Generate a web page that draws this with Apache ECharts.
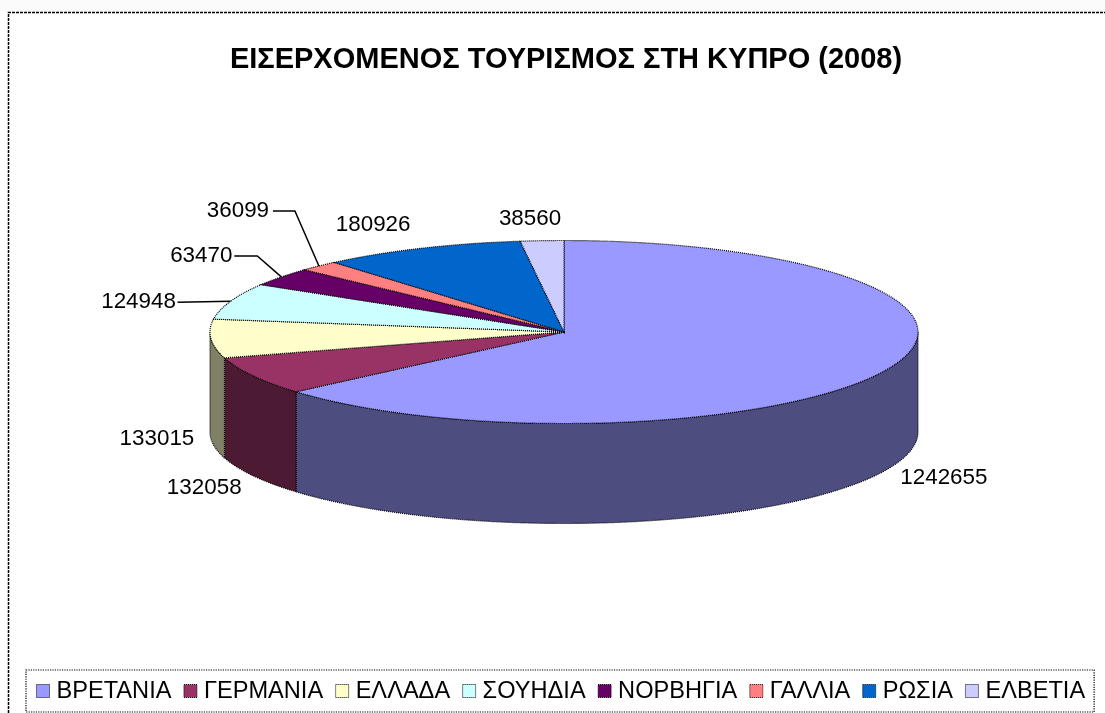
<!DOCTYPE html>
<html>
<head>
<meta charset="utf-8">
<style>html,body{margin:0;padding:0;background:#fff}#c{width:1105px;height:713px}</style>
<script src="https://cdn.jsdelivr.net/npm/echarts@6/dist/echarts.min.js"></script>
</head>
<body>
<div id="c"></div>
<script>
const titleText = 'ΕΙΣΕΡΧΟΜΕΝΟΣ ΤΟΥΡΙΣΜΟΣ ΣΤΗ ΚΥΠΡΟ (2008)';
const categories = ['ΒΡΕΤΑΝΙΑ','ΓΕΡΜΑΝΙΑ','ΕΛΛΑΔΑ','ΣΟΥΗΔΙΑ','ΝΟΡΒΗΓΙΑ','ΓΑΛΛΙΑ','ΡΩΣΙΑ','ΕΛΒΕΤΙΑ'];
const values = [1242655,132058,133015,124948,63470,36099,180926,38560];
const topColors = ['#9999ff','#993366','#ffffcc','#ccffff','#660066','#ff8080','#0066cc','#ccccff'];
const wallColors = ['#4d4d80','#4d1a33','#808066','#668080','#330033','#804040','#003366','#666680'];

// label placement relative to each slice's rim midpoint
const labelOffsets = [[58,107.5],[-49,112.5],[-54,100],[-92,1],[-80,-21],[-81,-55],[-48,-23],[-12,-22]];
// leader lines: [label-side x offset, elbow x offset] from the label centre
const leaders = [null,null,null,[39,null],[33,56],[35,57],null,null];

const pie = {cx:564, cy:332, rx:354, ry:91.5, depth:100};
const total = values.reduce((a,b)=>a+b,0);
const startAngle = i => values.slice(0,i).reduce((a,b)=>a+b,0)/total*360;
const pt = (deg,dy=0) => {
  const t = deg*Math.PI/180;
  return [pie.cx+pie.rx*Math.sin(t), pie.cy-pie.ry*Math.cos(t)+dy];
};
const arc = (a,b,dy=0) => {
  const out=[]; const n=Math.max(2,Math.ceil(Math.abs(b-a)));
  for(let k=0;k<=n;k++) out.push(pt(a+(b-a)*k/n,dy));
  return out;
};
const edge = {stroke:'#000',lineWidth:1.2,lineDash:[1,1]};

function renderSlice(i){
  return function(params,api){
    const v = api.value(0);
    const a = startAngle(i), b = a+v/total*360;
    const children = [];
    const wa = Math.max(a,90), wb = Math.min(b,270);
    if(wb>wa){
      children.push({type:'polygon',silent:true,
        shape:{points:arc(wa,wb).concat(arc(wb,wa,pie.depth))},
        style:Object.assign({fill:wallColors[i]},edge)});
    }
    children.push({type:'polygon',silent:true,
      shape:{points:[[pie.cx,pie.cy]].concat(arc(a,b))},
      style:Object.assign({fill:topColors[i]},edge)});
    const mid = pt((a+b)/2);
    const lx = mid[0]+labelOffsets[i][0], ly = mid[1]+labelOffsets[i][1];
    if(leaders[i]){
      const pts=[[lx+leaders[i][0],ly]];
      if(leaders[i][1]!==null) pts.push([lx+leaders[i][1],ly]);
      pts.push(mid);
      children.push({type:'polyline',silent:true,shape:{points:pts},
        style:{stroke:'#000',lineWidth:1.5,fill:null}});
    }
    children.push({type:'text',silent:true,style:{text:String(v),x:lx,y:ly,
      fill:'#000',font:'22.4px "Liberation Sans", Arial, sans-serif',
      align:'center',verticalAlign:'middle'}});
    return {type:'group',children};
  };
}

const chart = echarts.init(document.getElementById('c'),null,{renderer:'canvas'});
chart.setOption({
  animation:false,
  backgroundColor:'#ffffff',
  title:{text:titleText,left:561,top:38,textAlign:'center',
    textStyle:{fontFamily:'"Liberation Sans", Arial, sans-serif',fontWeight:'bold',fontSize:29,color:'#000',lineHeight:34}},
  legend:{
    data:categories, left:26, top:670, orient:'horizontal',
    padding:[9,9,9,10], itemWidth:13, itemHeight:13, itemGap:12,
    icon:'rect', selectedMode:false,
    borderColor:'#000', borderWidth:1.2, borderType:'dotted',
    itemStyle:{borderColor:'#000',borderWidth:1,borderType:'dotted'},
    textStyle:{fontFamily:'"Liberation Sans", Arial, sans-serif',fontSize:23.6,color:'#000',padding:[0,0,0,2]}
  },
  series:categories.map((name,i)=>({
    type:'custom',name,coordinateSystem:'none',silent:true,clip:false,
    itemStyle:{color:topColors[i]},
    renderItem:renderSlice(i),
    data:[[values[i]]]
  })),
  graphic:[
    {type:'rect',silent:true,z:-1,shape:{x:0,y:0,width:1105,height:12},style:{fill:'#fbfbfb'}},
    {type:'polyline',silent:true,shape:{points:[[8.5,713],[8.5,12.5],[1105,12.5]]},
    style:{stroke:'#000',lineWidth:1.5,lineDash:[3,1],fill:null}}]
});
</script>
</body>
</html>
